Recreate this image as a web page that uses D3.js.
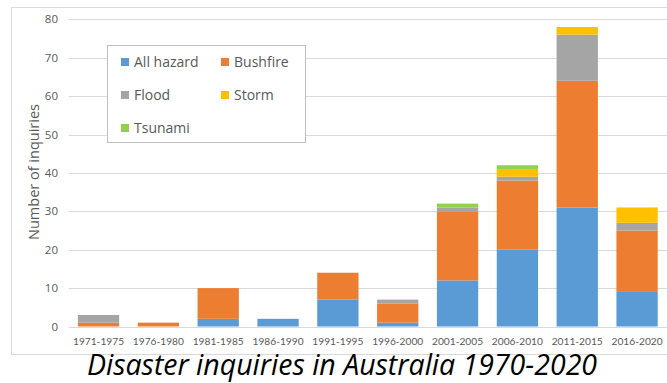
<!DOCTYPE html>
<html><head><meta charset="utf-8">
<script src="https://cdn.jsdelivr.net/npm/d3@7"></script>
<style>html,body{margin:0;padding:0;background:#fff;}svg{display:block;}</style>
</head><body>
<svg id="c" width="667" height="383"></svg>
<script>
const categories = ["1971-1975","1976-1980","1981-1985","1986-1990","1991-1995","1996-2000","2001-2005","2006-2010","2011-2015","2016-2020"];
const seriesNames = ["All hazard","Bushfire","Flood","Storm","Tsunami"];
const allHazard = [0,0,2,2,7,1,12,20,31,9];
const bushfire  = [1,1,8,0,7,5,18,18,33,16];
const flood     = [2,0,0,0,0,1,1,1,12,2];
const storm     = [0,0,0,0,0,0,0,2,2,4];
const tsunami   = [0,0,0,0,0,0,1,1,0,0];
const yTicks = [0,10,20,30,40,50,60,70,80];
const colors = ["#5B9BD5","#ED7D31","#A5A5A5","#FFC000","#92D050"];
const titleText = "Disaster inquiries in Australia 1970-2020";
const yTitle = "Number of inquiries";

const font = "'Open Sans', sans-serif";
const fontX = "Lato, sans-serif";
const svg = d3.select("#c");
const values = [allHazard,bushfire,flood,storm,tsunami];
const rows = categories.map((c,i)=>{const r={cat:c}; seriesNames.forEach((s,j)=>r[s]=values[j][i]); return r;});
const stack = d3.stack().keys(seriesNames)(rows);

const x = d3.scaleBand().domain(categories).range([68.6,667]).paddingInner(0.31).paddingOuter(0.155);
const y = d3.scaleLinear().domain([0,80]).range([326.5,19.3]);

// outer border
svg.append("rect").attr("x",11.5).attr("y",7.5).attr("width",670).attr("height",347).attr("fill","#fff").attr("stroke","#D9D9D9").attr("stroke-width",1);

// gridlines
svg.append("g").selectAll("line").data(yTicks).join("line")
  .attr("x1",68.6).attr("x2",667).attr("y1",d=>Math.round(y(d))+0.5).attr("y2",d=>Math.round(y(d))+0.5)
  .attr("stroke","#D9D9D9").attr("stroke-width",1);

// y labels
svg.append("g").selectAll("text").data(yTicks).join("text")
  .attr("x",58).attr("y",d=>y(d)).attr("dy","0.35em").attr("text-anchor","end")
  .attr("font-family",font).attr("font-size",11.5).attr("fill","#595959").text(d=>d);

// bars
svg.append("g").selectAll("g").data(stack).join("g").attr("fill",(d,i)=>colors[i])
  .selectAll("rect").data(d=>d).join("rect")
  .attr("x",d=>x(d.data.cat)).attr("width",x.bandwidth())
  .attr("y",d=>y(d[1])).attr("height",d=>y(d[0])-y(d[1]));

// x labels
svg.append("g").selectAll("text").data(categories).join("text")
  .attr("x",d=>x(d)+x.bandwidth()/2).attr("y",345).attr("text-anchor","middle")
  .attr("font-family",fontX).attr("font-size",10.2).attr("fill","#595959").text(d=>d);

// y title
svg.append("text").attr("transform","translate(39,172) rotate(-90)").attr("text-anchor","middle")
  .attr("font-family",font).attr("font-size",14.5).attr("fill","#595959").text(yTitle);

// legend
const lg = svg.append("g");
lg.append("rect").attr("x",107.5).attr("y",45.5).attr("width",198).attr("height",97).attr("fill","#fff").attr("stroke","#BFBFBF");
const pos = [[121,62],[221,62],[121,95],[221,95],[121,128]];
seriesNames.forEach((s,i)=>{
  lg.append("rect").attr("x",pos[i][0]).attr("y",pos[i][1]-4).attr("width",8).attr("height",8).attr("fill",colors[i]);
  lg.append("text").attr("x",pos[i][0]+13).attr("y",pos[i][1]).attr("dy","0.35em")
    .attr("font-family",font).attr("font-size",14).attr("fill","#595959").text(s);
});

// title
svg.append("text").attr("x",342).attr("y",375).attr("text-anchor","middle")
  .attr("font-family",font).attr("font-style","italic").attr("font-size",28.5).attr("fill","#000").text(titleText);
</script>
</body></html>
